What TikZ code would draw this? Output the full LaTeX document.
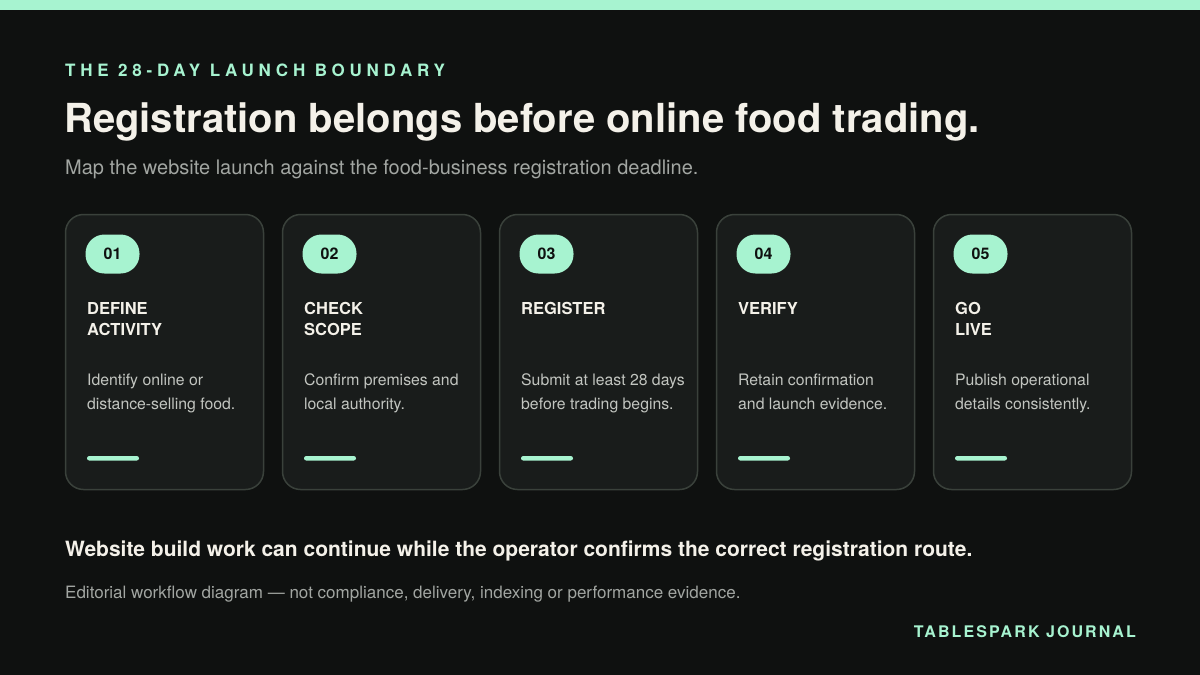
\documentclass[tikz,border=0pt]{standalone}
\usepackage{fontspec}
\setmainfont{TeX Gyre Heros}
\newfontfamily\spacedfont[LetterSpace=28]{TeX Gyre Heros}
\newfontfamily\brandfont[LetterSpace=13]{TeX Gyre Heros}
\usepackage{tikz}
\usetikzlibrary{positioning}

\definecolor{pagebg}{HTML}{0F1110}
\definecolor{mint}{HTML}{A7F3D0}
\definecolor{cardbg}{HTML}{191C1B}
\definecolor{cardline}{HTML}{3A413B}
\definecolor{cream}{HTML}{F4F1E9}
\definecolor{softgrey}{HTML}{A2A6A2}
\definecolor{notegrey}{HTML}{C2C5C0}
\definecolor{ink}{HTML}{0F1110}

\tikzset{
	card/.style={draw=cardline, fill=cardbg, line width=1.5pt, rounded corners=18pt, minimum width=198pt, minimum height=275pt, inner sep=0pt},
	pill/.style={fill=mint, rounded corners=19pt, minimum width=54pt, minimum height=39pt, inner sep=0pt, text=ink, font=\bfseries\fontsize{16}{18}\selectfont},
	steptitle/.style={anchor=base west, inner sep=0pt, align=left, text=cream, font=\bfseries\fontsize{16.5}{21.4}\selectfont},
	stepnote/.style={anchor=base west, inner sep=0pt, align=left, text=notegrey, font=\fontsize{15.8}{23.8}\selectfont},
	bar/.style={fill=mint, rounded corners=2.2pt}
}

\begin{document}
\begin{tikzpicture}[x=1pt, y=-1pt]
	% Page and top band
	\useasboundingbox (0,0) rectangle (1200,675);
	\fill[pagebg] (0,0) rectangle (1200,675);
	\fill[mint] (0,0) rectangle (1200,10);

	% Header
	\node[anchor=base west, inner sep=0pt, text=mint] (eyebrow) at (65,76) {\spacedfont\bfseries\fontsize{17}{20}\selectfont THE 28-DAY LAUNCH BOUNDARY};
	\node[anchor=base west, inner sep=0pt, text=cream, font=\bfseries\fontsize{40}{46}\selectfont] (headline) at (64,132) {Registration belongs before online food trading.};
	\node[anchor=base west, inner sep=0pt, text=softgrey, font=\fontsize{20}{24}\selectfont] (subline) at (65,174) {Map the website launch against the food-business registration deadline.};

	% Card 1
	\node[card] (card1) at (164.5,352) {};
	\node[pill] (num1) at (112.5,254) {01};
	\node[steptitle] (title1) at (87,335.7) {DEFINE\\ACTIVITY};
	\node[stepnote] (note1) at (87,409.5) {Identify online or\\distance-selling food.};
	\fill[bar] (87,456) rectangle (139,460.5);

	% Card 2
	\node[card] (card2) at (381.5,352) {};
	\node[pill] (num2) at (329.5,254) {02};
	\node[steptitle] (title2) at (304,335.7) {CHECK\\SCOPE};
	\node[stepnote] (note2) at (304,409.5) {Confirm premises and\\local authority.};
	\fill[bar] (304,456) rectangle (356,460.5);

	% Card 3
	\node[card] (card3) at (598.5,352) {};
	\node[pill] (num3) at (546.5,254) {03};
	\node[steptitle] (title3) at (521,314.3) {REGISTER};
	\node[stepnote] (note3) at (521,409.5) {Submit at least 28 days\\before trading begins.};
	\fill[bar] (521,456) rectangle (573,460.5);

	% Card 4
	\node[card] (card4) at (815.5,352) {};
	\node[pill] (num4) at (763.5,254) {04};
	\node[steptitle] (title4) at (738,314.3) {VERIFY};
	\node[stepnote] (note4) at (738,409.5) {Retain confirmation\\and launch evidence.};
	\fill[bar] (738,456) rectangle (790,460.5);

	% Card 5
	\node[card] (card5) at (1032.5,352) {};
	\node[pill] (num5) at (980.5,254) {05};
	\node[steptitle] (title5) at (955,335.7) {GO\\LIVE};
	\node[stepnote] (note5) at (955,409.5) {Publish operational\\details consistently.};
	\fill[bar] (955,456) rectangle (1007,460.5);

	% Footer
	\node[anchor=base west, inner sep=0pt, text=cream, font=\bfseries\fontsize{21}{24}\selectfont] (takeaway) at (65,556.7) {Website build work can continue while the operator confirms the correct registration route.};
	\node[anchor=base west, inner sep=0pt, text=softgrey, font=\fontsize{17}{20}\selectfont] (disclaimer) at (65,598.3) {Editorial workflow diagram — not compliance, delivery, indexing or performance evidence.};
	\node[anchor=base east, inner sep=0pt, text=mint] (brand) at (1136,637.7) {\brandfont\bfseries\fontsize{16}{19}\selectfont TABLESPARK JOURNAL};
\end{tikzpicture}
\end{document}
